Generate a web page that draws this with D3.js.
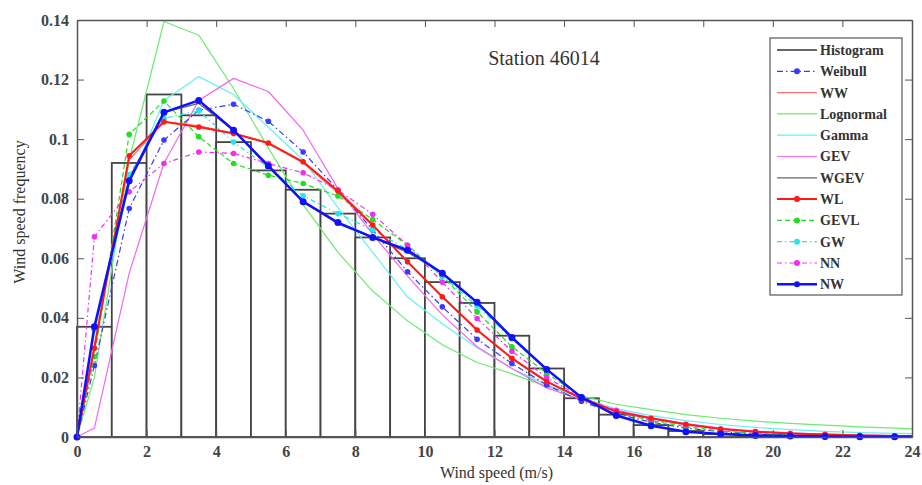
<!DOCTYPE html>
<html>
<head>
<meta charset="utf-8">
<script src="https://cdn.jsdelivr.net/npm/d3@7"></script>
<style>
  body { margin: 0; background: #fff; }
</style>
</head>
<body>
<div id="container"></div>
<script>
// bin edges 0..24, histogram frequency per 1 m/s bin
const binStarts = [0,1,2,3,4,5,6,7,8,9,10,11,12,13,14,15,16,17,18,19,20,21,22,23]
const histogram = [0.037,0.092,0.115,0.108,0.099,0.0895,0.083,0.075,0.067,0.060,0.052,0.045,0.034,0.023,0.013,0.0075,0.004,0.002,0.001,0.0005,0.0003,0.0002,0.0001,0.0001]

// curve x positions (bin centres)
const speeds = [0,0.5,1.5,2.5,3.5,4.5,5.5,6.5,7.5,8.5,9.5,10.5,11.5,12.5,13.5,14.5,15.5,16.5,17.5,18.5,19.5,20.5,21.5,22.5,23.5,24]

const weibull   = [0,0.024,0.0767,0.0997,0.1097,0.1117,0.106,0.0957,0.0829,0.0695,0.0555,0.0437,0.0328,0.0247,0.0175,0.012,0.0078,0.005,0.003,0.0018,0.001,0.0006,0.0003,0.0002,0.0001,0.0001]
const ww        = [0,0.031,0.093,0.106,0.1045,0.102,0.0985,0.092,0.082,0.071,0.059,0.047,0.036,0.0265,0.0187,0.0128,0.0085,0.0062,0.0042,0.0027,0.0018,0.0012,0.0008,0.0005,0.0003,0.0003]
const lognormal = [0,0.02,0.093,0.1395,0.1349,0.117,0.097,0.078,0.062,0.049,0.039,0.031,0.025,0.0212,0.017,0.0138,0.011,0.0092,0.0075,0.0063,0.0053,0.0046,0.004,0.0034,0.003,0.0027]
const gamma     = [0,0.035,0.085,0.113,0.121,0.115,0.104,0.093,0.077,0.062,0.047,0.038,0.030,0.023,0.0175,0.013,0.0095,0.0072,0.0055,0.0042,0.0032,0.0025,0.0019,0.0015,0.0012,0.0011]
const gev       = [0,0.003,0.055,0.092,0.113,0.1204,0.116,0.103,0.0834,0.068,0.054,0.041,0.0303,0.023,0.0165,0.0125,0.009,0.0065,0.0045,0.003,0.002,0.0014,0.001,0.0007,0.0005,0.0004]
const wgev      = [0,0.037,0.087,0.109,0.112,0.103,0.0905,0.079,0.0715,0.067,0.062,0.055,0.045,0.0335,0.0228,0.0133,0.0073,0.0038,0.0018,0.001,0.0005,0.0003,0.0002,0.0001,0.0001,0.0001]
const wl        = [0,0.0298,0.0944,0.1058,0.1041,0.1019,0.0987,0.0924,0.0826,0.0712,0.0588,0.0471,0.0359,0.0264,0.0186,0.013,0.0085,0.0063,0.0043,0.0027,0.0018,0.0012,0.0008,0.0005,0.0003,0.0003]
const gevl      = [0,0.027,0.1016,0.1128,0.1008,0.0918,0.0879,0.0851,0.0809,0.073,0.0644,0.054,0.042,0.0303,0.0214,0.0135,0.0085,0.0055,0.0035,0.002,0.0012,0.0007,0.0004,0.0002,0.0001,0.0001]
const gw        = [0,0.036,0.088,0.107,0.1095,0.099,0.0905,0.081,0.075,0.0695,0.063,0.054,0.044,0.033,0.0225,0.0133,0.0075,0.004,0.002,0.001,0.0005,0.0003,0.0002,0.0001,0.0001,0.0001]
const nn        = [0,0.0672,0.0823,0.0918,0.0957,0.0952,0.0918,0.0887,0.0829,0.0748,0.0644,0.052,0.0398,0.0288,0.02,0.0133,0.009,0.006,0.004,0.0027,0.0018,0.0012,0.0008,0.0005,0.0003,0.0003]
const nw        = [0,0.037,0.086,0.109,0.113,0.103,0.091,0.079,0.072,0.067,0.0627,0.055,0.0452,0.0334,0.0227,0.0133,0.0072,0.0038,0.0018,0.001,0.0005,0.0003,0.0002,0.0001,0.0001,0.0001]

const xTicks = [0,2,4,6,8,10,12,14,16,18,20,22,24]
const yTicks = [0,0.02,0.04,0.06,0.08,0.1,0.12,0.14]

// legend order; draw order is separate so NW sits on top
const series = [
  { name: 'Weibull',   values: weibull,   color: '#3a3aff', width: 1.2, dash: '6,3,1.5,3', marker: true },
  { name: 'WW',        values: ww,        color: '#ff7070', width: 1.2, dash: null,        marker: false },
  { name: 'Lognormal', values: lognormal, color: '#6eea6e', width: 1.2, dash: null,        marker: false },
  { name: 'Gamma',     values: gamma,     color: '#66f0f0', width: 1.2, dash: null,        marker: false },
  { name: 'GEV',       values: gev,       color: '#f266f2', width: 1.2, dash: null,        marker: false },
  { name: 'WGEV',      values: wgev,      color: '#666666', width: 1.2, dash: null,        marker: false },
  { name: 'WL',        values: wl,        color: '#ff1a1a', width: 2,   dash: null,        marker: true },
  { name: 'GEVL',      values: gevl,      color: '#22dd22', width: 1.2, dash: '5,3',       marker: true },
  { name: 'GW',        values: gw,        color: '#22e8e8', width: 1.2, dash: '5,3,1.5,3', marker: true },
  { name: 'NN',        values: nn,        color: '#f030f0', width: 1.2, dash: '5,3,1.5,3', marker: true },
  { name: 'NW',        values: nw,        color: '#1010ff', width: 2.5, dash: null,        marker: true }
]
const drawOrder = ['Lognormal','Gamma','GEV','WW','WGEV','Weibull','GEVL','GW','NN','WL','NW']

const w = 922
const h = 485
const mLeft = 77, mRight = 912, mTop = 20, mBottom = 437
const serif = "'Times New Roman', 'Liberation Serif', 'DejaVu Serif', Times, serif"

const x = d3.scaleLinear().domain([0, 24]).range([mLeft, mRight])
const y = d3.scaleLinear().domain([0, 0.14]).range([mBottom, mTop])

const svg = d3.select('#container').append('svg')
  .attr('width', w).attr('height', h)

// histogram bars
svg.append('g').selectAll('rect')
  .data(binStarts)
  .enter().append('rect')
  .attr('x', d => x(d))
  .attr('y', (d, i) => y(histogram[i]))
  .attr('width', x(1) - x(0))
  .attr('height', (d, i) => y(0) - y(histogram[i]))
  .attr('fill', 'white')
  .attr('stroke', '#444')
  .attr('stroke-width', 1.8)

const line = d3.line()
  .x((d, i) => x(speeds[i]))
  .y(d => y(d))

drawOrder.forEach(name => {
  const s = series.find(o => o.name === name)
  svg.append('path')
    .datum(s.values)
    .attr('d', line)
    .attr('fill', 'none')
    .attr('stroke', s.color)
    .attr('stroke-width', s.width)
    .attr('stroke-dasharray', s.dash)
    .attr('stroke-linejoin', 'round')
  if (s.marker) {
    svg.append('g').selectAll('circle')
      .data(s.values.filter((d, i) => speeds[i] < 24))
      .enter().append('circle')
      .attr('cx', (d, i) => x(speeds[i]))
      .attr('cy', d => y(d))
      .attr('r', name === 'NW' ? 3.5 : 2.8)
      .attr('fill', s.color)
  }
})

// axes with inward ticks, MATLAB style box
const axisColor = '#555'
const xAxis = d3.axisBottom(x).tickValues(xTicks).tickSizeInner(-7).tickSizeOuter(0).tickPadding(9)
const yAxis = d3.axisLeft(y).tickValues(yTicks).tickSizeInner(-7).tickSizeOuter(0).tickPadding(8)
  .tickFormat(d => d === 0 ? '0' : String(+d.toFixed(2)))

svg.append('g').attr('transform', 'translate(0,' + mBottom + ')').call(xAxis)
svg.append('g').attr('transform', 'translate(' + mLeft + ',0)').call(yAxis)
svg.append('g').attr('transform', 'translate(0,' + mTop + ')')
  .call(d3.axisTop(x).tickValues(xTicks).tickSizeInner(-7).tickSizeOuter(0).tickFormat(''))
svg.append('g').attr('transform', 'translate(' + mRight + ',0)')
  .call(d3.axisRight(y).tickValues(yTicks).tickSizeInner(-7).tickSizeOuter(0).tickFormat(''))

svg.selectAll('.domain').attr('stroke', axisColor).attr('stroke-width', 1.5)
svg.selectAll('.tick line').attr('stroke', axisColor)
svg.selectAll('.tick text')
  .attr('font-family', serif)
  .attr('font-size', 16)
  .attr('font-weight', 'bold')
  .attr('fill', '#444')

svg.append('text')
  .attr('x', (mLeft + mRight) / 2 + 2)
  .attr('y', 478)
  .attr('text-anchor', 'middle')
  .attr('font-family', serif)
  .attr('font-size', 16)
  .attr('fill', '#333')
  .text('Wind speed (m/s)')

svg.append('text')
  .attr('transform', 'rotate(-90)')
  .attr('x', -212)
  .attr('y', 25)
  .attr('text-anchor', 'middle')
  .attr('font-family', serif)
  .attr('font-size', 16)
  .attr('fill', '#333')
  .text('Wind speed frequency')

svg.append('text')
  .attr('x', 544)
  .attr('y', 65)
  .attr('text-anchor', 'middle')
  .attr('font-family', serif)
  .attr('font-size', 20)
  .attr('fill', '#333')
  .text('Station 46014')

// legend
const legend = svg.append('g').attr('id', 'legend')
legend.append('rect')
  .attr('x', 770).attr('y', 38)
  .attr('width', 132).attr('height', 257)
  .attr('fill', 'white')
  .attr('stroke', '#555')
  .attr('stroke-width', 1.2)

const legendItems = [{ name: 'Histogram', color: '#333', width: 1.5, dash: null, marker: false }].concat(series)
legendItems.forEach((s, i) => {
  const ly = 50 + i * 21.3
  legend.append('line')
    .attr('x1', 777).attr('x2', 817)
    .attr('y1', ly).attr('y2', ly)
    .attr('stroke', s.color)
    .attr('stroke-width', s.width)
    .attr('stroke-dasharray', s.dash)
  if (s.marker) {
    legend.append('circle')
      .attr('cx', 797).attr('cy', ly).attr('r', 3)
      .attr('fill', s.color)
  }
  legend.append('text')
    .attr('x', 820).attr('y', ly)
    .attr('dy', '0.35em')
    .attr('font-family', serif)
    .attr('font-size', 14)
    .attr('font-weight', 'bold')
    .attr('fill', '#333')
    .text(s.name)
})
</script>
</body>
</html>
